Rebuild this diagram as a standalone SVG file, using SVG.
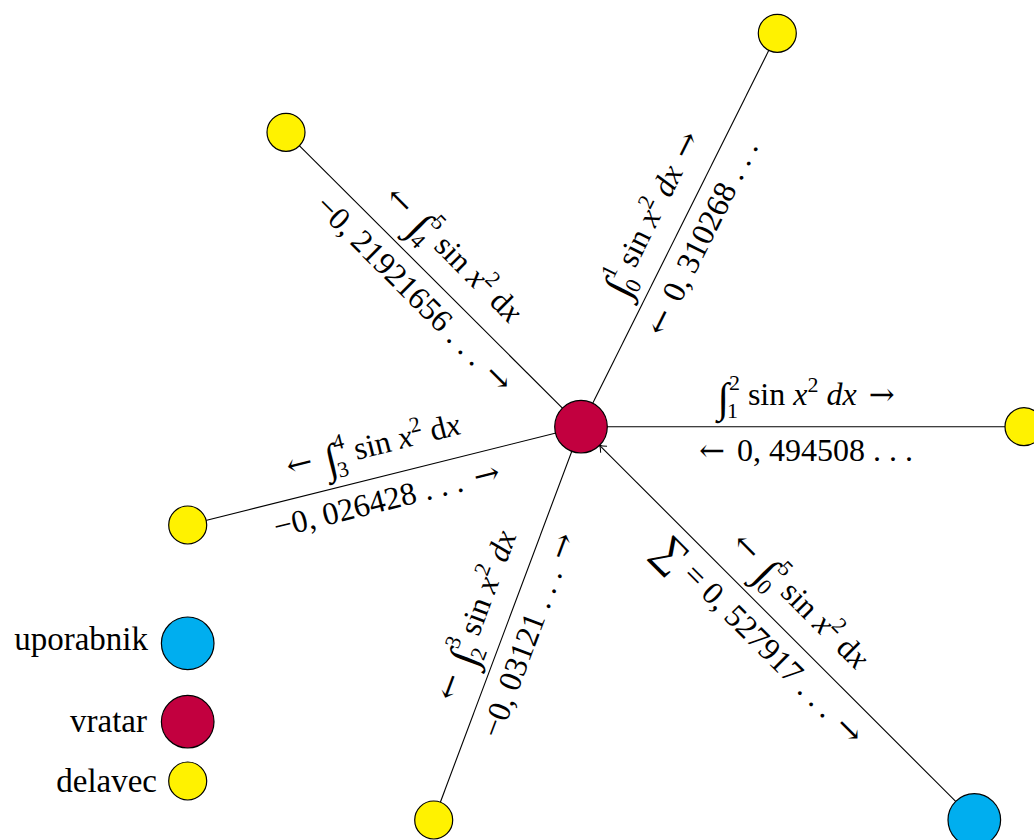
<svg xmlns="http://www.w3.org/2000/svg" width="1034" height="840" viewBox="0 0 1034 840">
<style>
.t { font-family: "Liberation Serif", "DejaVu Serif", serif; font-size: 32px; fill: #000; text-anchor: middle; }
.lg { font-family: "Liberation Serif", "DejaVu Serif", serif; font-size: 33px; fill: #000; text-anchor: end; }
.i { font-style: italic; }
.s { font-size: 22px; font-style: normal; }
.int { font-size: 42px; font-style: italic; }
.sum { font-size: 42px; }
.ar { font-family: "DejaVu Serif", serif; font-size: 31px; }
.node { stroke: #000; stroke-width: 1.2; }
.y { fill: #FFF200; }
.r { fill: #C2003F; }
.b { fill: #00AEEF; }
.edge { stroke: #000; stroke-width: 1.1; fill: none; }
</style>
<defs>
<marker id="arr" markerUnits="userSpaceOnUse" markerWidth="12" markerHeight="12" viewBox="-8 -6 10 12" refX="0" refY="0" orient="auto">
<path d="M-6,-4.5 Q-2.5,-1 0,0 Q-2.5,1 -6,4.5" fill="none" stroke="#000" stroke-width="1"/>
</marker>
</defs>

<g id="connectors">
<line class="edge" x1="581" y1="426.7" x2="286" y2="132.3"/>
<line class="edge" x1="581" y1="426.7" x2="777.3" y2="33.3"/>
<line class="edge" x1="581" y1="426.7" x2="1024" y2="426.7"/>
<line class="edge" x1="581" y1="426.7" x2="187.7" y2="525"/>
<line class="edge" x1="581" y1="426.7" x2="433.7" y2="820"/>
<line class="edge" x1="955.7" y1="801.4" x2="599.6" y2="445.3" marker-end="url(#arr)"/>
</g>

<g id="edge-labels">
<g id="label-topleft" transform="translate(431,277) rotate(45)">
<text class="t" x="0" y="-22"><tspan class="ar">←</tspan> <tspan class="int" dx="5" dy="7">∫</tspan><tspan class="s" dx="-2" dy="6">4</tspan><tspan class="s" dx="-9" dy="-28">5</tspan><tspan dy="15"> sin </tspan><tspan class="i">x</tspan><tspan class="s" dy="-13">2</tspan><tspan dy="13"> d</tspan><tspan class="i">x</tspan></text>
<text class="t" x="0" y="34">−0, 21921656 . . . <tspan class="ar" dx="4">→</tspan></text>
</g>
<g id="label-topright" transform="translate(680.7,226.9) rotate(-63.5)">
<text class="t" x="0" y="-22"><tspan class="int" dy="7">∫</tspan><tspan class="s" dx="-2" dy="6">0</tspan><tspan class="s" dx="-9" dy="-28">1</tspan><tspan dy="15"> sin </tspan><tspan class="i">x</tspan><tspan class="s" dy="-13">2</tspan><tspan dy="13"> </tspan><tspan class="i">dx</tspan> <tspan class="ar" dx="4">→</tspan></text>
<text class="t" x="0" y="34"><tspan class="ar">←</tspan> <tspan dx="4">0, 310268 . . .</tspan></text>
</g>
<g id="label-right" transform="translate(806,426.7)">
<text class="t" x="0" y="-22"><tspan class="int" dy="7">∫</tspan><tspan class="s" dx="-2" dy="6">1</tspan><tspan class="s" dx="-9" dy="-28">2</tspan><tspan dy="15"> sin </tspan><tspan class="i">x</tspan><tspan class="s" dy="-13">2</tspan><tspan dy="13"> </tspan><tspan class="i">dx</tspan> <tspan class="ar" dx="4">→</tspan></text>
<text class="t" x="0" y="34"><tspan class="ar">←</tspan> <tspan dx="4">0, 494508 . . .</tspan></text>
</g>
<g id="label-left" transform="translate(381,476.7) rotate(-14.03)">
<text class="t" x="0" y="-22"><tspan class="ar">←</tspan> <tspan class="int" dx="5" dy="7">∫</tspan><tspan class="s" dx="-2" dy="6">3</tspan><tspan class="s" dx="-9" dy="-28">4</tspan><tspan dy="15"> sin </tspan><tspan class="i">x</tspan><tspan class="s" dy="-13">2</tspan><tspan dy="13"> d</tspan><tspan class="i">x</tspan></text>
<text class="t" x="0" y="34">−0, 026428 . . . <tspan class="ar" dx="4">→</tspan></text>
</g>
<g id="label-bottom" transform="translate(506.1,626.6) rotate(-69.47)">
<text class="t" x="0" y="-22"><tspan class="ar">←</tspan> <tspan class="int" dx="5" dy="7">∫</tspan><tspan class="s" dx="-2" dy="6">2</tspan><tspan class="s" dx="-9" dy="-28">3</tspan><tspan dy="15"> sin </tspan><tspan class="i">x</tspan><tspan class="s" dy="-13">2</tspan><tspan dy="13"> </tspan><tspan class="i">dx</tspan></text>
<text class="t" x="0" y="34">−0, 03121 . . . <tspan class="ar" dx="4">→</tspan></text>
</g>
<g id="label-user" transform="translate(777.6,623.3) rotate(45)">
<text class="t" x="0" y="-22"><tspan class="ar">←</tspan> <tspan class="int" dx="5" dy="7">∫</tspan><tspan class="s" dx="-2" dy="6">0</tspan><tspan class="s" dx="-9" dy="-28">5</tspan><tspan dy="15"> sin </tspan><tspan class="i">x</tspan><tspan class="s" dy="-13">2</tspan><tspan dy="13"> d</tspan><tspan class="i">x</tspan></text>
<text class="t" x="0" y="35"><tspan class="sum" dy="4">∑</tspan><tspan dy="-4"> = 0, 527917 . . . </tspan><tspan class="ar" dx="4">→</tspan></text>
</g>
</g>

<g id="node-gatekeeper"><circle class="node r" cx="581" cy="426.7" r="26.3"/></g>
<g id="node-worker-topleft"><circle class="node y" cx="286" cy="132.3" r="19"/></g>
<g id="node-worker-topright"><circle class="node y" cx="777.3" cy="33.3" r="19"/></g>
<g id="node-worker-right"><circle class="node y" cx="1024" cy="426.7" r="19"/></g>
<g id="node-worker-left"><circle class="node y" cx="187.7" cy="525" r="19"/></g>
<g id="node-worker-bottom"><circle class="node y" cx="433.7" cy="820" r="19"/></g>
<g id="node-user"><circle class="node b" cx="974.3" cy="820" r="26.3"/></g>

<g id="legend">
<g id="legend-user"><text class="lg" x="148" y="650">uporabnik</text><circle class="node b" cx="187.7" cy="643.3" r="26.3"/></g>
<g id="legend-gatekeeper"><text class="lg" x="147" y="732">vratar</text><circle class="node r" cx="187.7" cy="721.7" r="26.3"/></g>
<g id="legend-worker"><text class="lg" x="157" y="792">delavec</text><circle class="node y" cx="187.7" cy="781" r="19"/></g>
</g>
</svg>
